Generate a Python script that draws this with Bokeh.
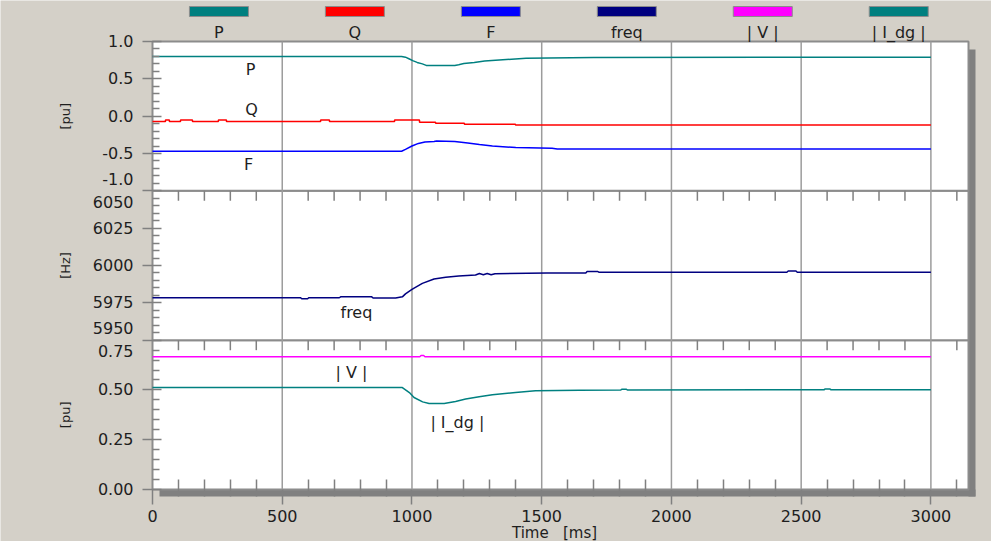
import numpy as np
from math import pi
from bokeh.plotting import figure
from bokeh.models import Range1d, FixedTicker, BoxAnnotation, Label
from bokeh.core.properties import value
from bokeh.embed import file_html
from bokeh.resources import INLINE

# ---------------- data ----------------
series_names = ["P", "Q", "F", "freq", "| V |", "| I_dg |"]
series_colors = ["#008080", "#ff0000", "#0000ff", "#000080", "#ff00ff", "#008080"]

t_P = [0, 960, 975, 990, 1005, 1020, 1040, 1055, 1165, 1180, 1200, 1240, 1280, 1350, 1440, 1700, 3000]
P = [0.80, 0.80, 0.79, 0.765, 0.74, 0.72, 0.70, 0.68, 0.68, 0.69, 0.705, 0.72, 0.74, 0.755, 0.775, 0.785, 0.79]

t_Q = [0, 50, 65, 108, 154, 254, 285, 648, 682, 933, 1029, 1091, 1202, 1399, 3000]
Q = [-0.07, -0.05, -0.07, -0.05, -0.07, -0.05, -0.07, -0.05, -0.07, -0.05, -0.08, -0.095, -0.107, -0.117, -0.117]

t_F = [0, 960, 975, 1000, 1025, 1050, 1085, 1095, 1165, 1215, 1260, 1310, 1400, 1540, 1560, 3000]
F = [-0.47, -0.47, -0.445, -0.40, -0.365, -0.345, -0.34, -0.332, -0.34, -0.36, -0.38, -0.40, -0.42, -0.43, -0.44, -0.44]

t_freq = [0, 571, 575, 598, 602, 720, 725, 845, 850, 937, 963, 975, 1000, 1040, 1085, 1130, 1180,
          1245, 1260, 1275, 1290, 1305, 1320, 1520, 1670, 1675, 1715, 1720, 2445, 2450, 2480, 2485, 3000]
freq = [5978.4, 5978.4, 5977.7, 5977.7, 5978.4, 5978.4, 5979, 5979, 5978.2, 5978.2, 5979, 5981, 5984, 5988,
        5991, 5992.2, 5993, 5993.6, 5994.6, 5993.8, 5994.6, 5993.8, 5994.5, 5995, 5995, 5996, 5996, 5995.5,
        5995.5, 5996.3, 5996.3, 5995.5, 5995.5]

t_V = [0, 1030, 1035, 1045, 1050, 3000]
V = [0.667, 0.667, 0.673, 0.673, 0.667, 0.667]

t_I = [0, 963, 990, 1008, 1041, 1066, 1124, 1168, 1207, 1259, 1310, 1399, 1476, 1644, 1805, 1810,
       1825, 1830, 2588, 2593, 2610, 2615, 3000]
I_dg = [0.512, 0.512, 0.487, 0.462, 0.44, 0.432, 0.432, 0.442, 0.454, 0.466, 0.476, 0.487, 0.496,
        0.499, 0.500, 0.504, 0.504, 0.500, 0.501, 0.505, 0.505, 0.501, 0.501]

# tick values / labels per panel
pq_ticks = [1.0, 0.5, 0.0, -0.5, -1.0]
pq_labels = ["1.0", "0.5", "0.0", "-0.5", "-1.0"]
hz_ticks = [6050, 6025, 6000, 5975, 5950]
hz_labels = ["6050", "6025", "6000", "5975", "5950"]
iv_ticks = [0.75, 0.50, 0.25, 0.0]
iv_labels = ["0.75", "0.50", "0.25", "0.00"]
time_ticks = [0, 500, 1000, 1500, 2000, 2500, 3000]
time_minor_step = 100
y_titles = ["[pu]", "[Hz]", "[pu]"]
x_title = "Time\u00a0\u00a0\u00a0[ms]"

# ---------------- layout ----------------
GREY = "#d4d0c8"
BORDER = "#8c8c8c"
TICK = "#808080"
TXT = "#1e1e1e"
FONT = "DejaVu Sans"

W, H = 991, 541
X0_CANVAS = 152                    # canvas x of t = 0
SX = 778.4 / 3000.0                # px per ms
PANEL_BOTTOM_CANVAS = 489          # canvas y of panel-3 bottom
PPU = 448.0 / 36.0                 # px per layout unit (12 units per panel)
X_START = -X0_CANVAS / SX
X_END = (W - X0_CANVAS) / SX
Y_START = -(H - PANEL_BOTTOM_CANVAS) / PPU
Y_END = PANEL_BOTTOM_CANVAS / PPU
X_AXIS_U = -7 / PPU                # x axis sits below the panels' shadow
X_PANEL_END = 816 / SX
X_SHADOW_END = 823 / SX

panels = {  # name: (slot, low, high, minor step)
    "pq": (2, -1.0, 1.0, 0.1),
    "hz": (1, 5950.0, 6050.0, 5.0),
    "iv": (0, 0.0, 0.75, 0.05),
}
panel_ticks = {"pq": (pq_ticks, pq_labels), "hz": (hz_ticks, hz_labels), "iv": (iv_ticks, iv_labels)}


def to_u(name, v):
    k, lo, hi, _ = panels[name]
    return round(12 * k + 12 * (v - lo) / (hi - lo), 6)


def rng(name):
    k, lo, hi, _ = panels[name]
    return Range1d(lo + (hi - lo) * (Y_START - 12 * k) / 12, lo + (hi - lo) * (Y_END - 12 * k) / 12)


p = figure(width=W, height=H, x_range=Range1d(X_START, X_END), y_range=Range1d(Y_START, Y_END),
           output_backend="svg", toolbar_location=None, min_border=0,
           min_border_left=0, min_border_right=0, min_border_top=0, min_border_bottom=0,
           background_fill_color=GREY, border_fill_color=GREY, outline_line_color=None)
p.extra_y_ranges = {n: rng(n) for n in panels}
p.xgrid.visible = False
p.ygrid.visible = False

# shadows and white panels
p.add_layout(BoxAnnotation(left=7 / SX, right=X_SHADOW_END, bottom=X_AXIS_U, top=0, fill_color=TICK,
                           fill_alpha=1, line_color=None, level="image"))
p.add_layout(BoxAnnotation(left=X_PANEL_END, right=X_SHADOW_END, bottom=X_AXIS_U,
                           top=(PANEL_BOTTOM_CANVAS - 49) / PPU, fill_color=TICK, fill_alpha=1,
                           line_color=None, level="image"))
for k in range(3):
    p.add_layout(BoxAnnotation(left=0, right=X_PANEL_END, bottom=12 * k, top=12 * k + 12,
                               fill_color="white", fill_alpha=1, line_color=BORDER, line_alpha=1,
                               line_width=2, level="image"))

# vertical grid lines at the major time ticks
gx = [t for t in time_ticks if t > 0]
p.segment(x0=gx, y0=0, x1=gx, y1=36, line_color="#9c9c9c", line_width=1.5)

# minor time ticks (inside the panels)
mx = [x for x in range(time_minor_step, int(X_PANEL_END), time_minor_step) if x not in time_ticks]
tick_len = 10 / PPU
for top in (24, 12):
    p.segment(x0=mx, y0=top, x1=mx, y1=top - tick_len, line_color=TICK, line_width=1.5)

# data
p.line(t_P, P, y_range_name="pq", line_color=series_colors[0], line_width=1.5)
p.step(t_Q, Q, mode="after", y_range_name="pq", line_color=series_colors[1], line_width=1.5)
p.line(t_F, F, y_range_name="pq", line_color=series_colors[2], line_width=1.5)
p.line(t_freq, freq, y_range_name="hz", line_color=series_colors[3], line_width=1.5)
p.line(t_V, V, y_range_name="iv", line_color=series_colors[4], line_width=1.5)
p.line(t_I, I_dg, y_range_name="iv", line_color=series_colors[5], line_width=1.5)

# in-panel curve names
txt_kw = dict(text_align="center", text_baseline="middle", text_font=value(FONT),
              text_font_size="16px", text_color=TXT)
p.text(x=[378, 382, 370], y=[0.625, 0.089, -0.653], text=series_names[:3], y_range_name="pq", **txt_kw)
p.text(x=[786], y=[5968.3], text=[series_names[3]], y_range_name="hz", **txt_kw)
p.text(x=[767, 1175], y=[0.587, 0.339], text=series_names[4:], y_range_name="iv", **txt_kw)

# legend row at the top
leg_x = [256 + 524 * i for i in range(len(series_names))]
p.rect(x=leg_x, y=(PANEL_BOTTOM_CANVAS - 11) / PPU, width=59, height=10, width_units="screen",
       height_units="screen", fill_color=series_colors, line_color=BORDER, line_width=1)
p.text(x=leg_x, y=(PANEL_BOTTOM_CANVAS - 31.5) / PPU, text=series_names, **txt_kw)

# y axis: one axis carrying all three panels' ticks, fixed at t = 0
overrides = {}
minor = []
for name in ["pq", "hz", "iv"]:
    ticks, labels = panel_ticks[name]
    for v, lab in zip(ticks, labels):
        u = to_u(name, v)
        overrides[u] = overrides[u] + "\n" + lab if u in overrides else lab
    k, lo, hi, step = panels[name]
    n = int(round((hi - lo) / step))
    for i in range(1, n):
        v = lo + i * step
        if not any(abs(v - t) < 1e-9 for t in ticks):
            minor.append(to_u(name, v))
major = sorted(overrides.keys())
ya = p.yaxis[0]
ya.fixed_location = 0
ya.ticker = FixedTicker(ticks=major, minor_ticks=minor)
ya.major_label_overrides = overrides
ya.axis_line_color = None
ya.major_tick_line_color = TICK
ya.major_tick_line_width = 1.5
ya.major_tick_in = 9
ya.major_tick_out = 10
ya.minor_tick_line_color = TICK
ya.minor_tick_line_width = 1.5
ya.minor_tick_in = 7
ya.minor_tick_out = 0
ya.major_label_standoff = 9
ya.major_label_text_font = FONT
ya.major_label_text_font_size = "16px"
ya.major_label_text_color = TXT

xa = p.xaxis[0]
xa.fixed_location = X_AXIS_U
xa.ticker = FixedTicker(ticks=time_ticks, minor_ticks=mx)
xa.axis_line_color = None
xa.major_tick_line_color = TICK
xa.major_tick_line_width = 1.5
xa.major_tick_in = 7
xa.major_tick_out = 8
xa.minor_tick_line_color = TICK
xa.minor_tick_line_width = 1.5
xa.minor_tick_in = 17
xa.minor_tick_out = 0
xa.major_label_standoff = 5
xa.major_label_text_font = FONT
xa.major_label_text_font_size = "16px"
xa.major_label_text_color = TXT

# axis titles
lab_x = (73 - 160) / SX
for u, t in zip([30, 18, 6], y_titles):
    p.add_layout(Label(x=lab_x, y=u, text=t, angle=pi / 2, text_align="center", text_baseline="middle",
                       text_font=FONT, text_font_size="13px", text_color=TXT))
p.add_layout(Label(x=(562 - 160) / SX, y=(PANEL_BOTTOM_CANVAS - 532) / PPU, text=x_title,
                   text_align="center", text_baseline="middle", text_font=FONT, text_font_size="15px",
                   text_color=TXT))

open("out.html", "w").write(file_html(p, INLINE))
